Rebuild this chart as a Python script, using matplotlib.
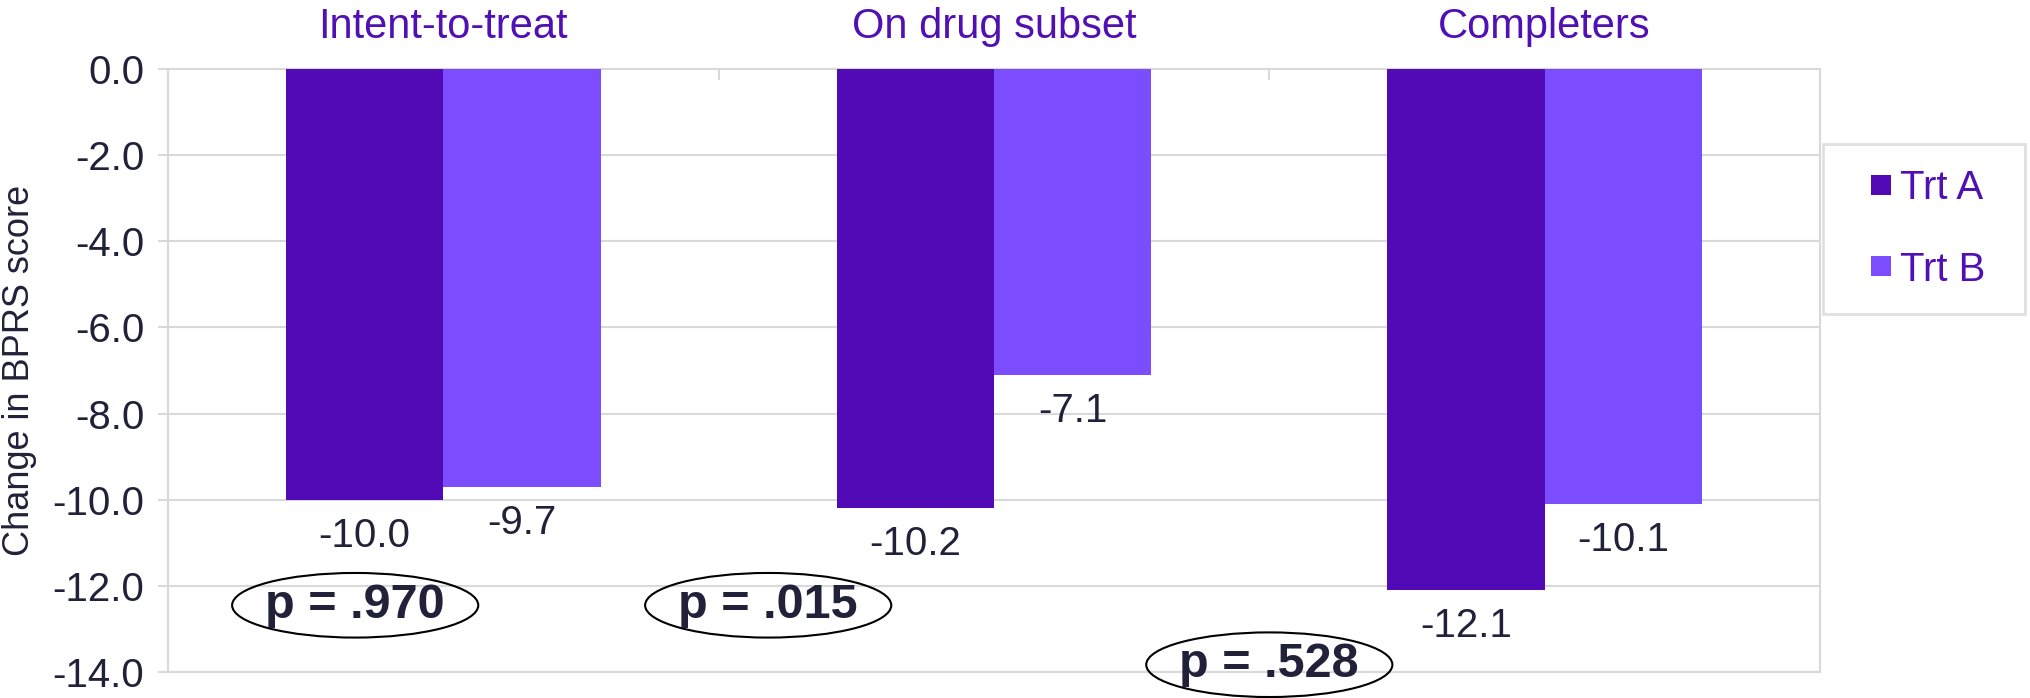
import matplotlib
matplotlib.use("Agg")
import matplotlib.pyplot as plt
from matplotlib.patches import Ellipse
from matplotlib.lines import Line2D
import numpy as np

# data
categories = ["Intent-to-treat", "On drug subset", "Completers"]
trt_a = [-10.0, -10.2, -12.1]
trt_b = [-9.7, -7.1, -10.1]
series_names = ["Trt A", "Trt B"]
p_labels = ["p = .970", "p = .015", "p = .528"]
# where each p-value ellipse sits (x in category units, y in score units)
p_x = [-0.16, 0.59, 1.50]
p_y = [-12.45, -12.45, -13.83]
y_ticks = [0, -2, -4, -6, -8, -10, -12, -14]

color_a = "#520AB6"
color_b = "#7B4DFF"
purple_text = "#5010B4"
dark_text = "#22213A"
grid_gray = "#D9D9D9"

plt.rcParams["font.family"] = ["Liberation Sans", "DejaVu Sans"]

fig = plt.figure(figsize=(20.31, 6.98), dpi=100)
ax = fig.add_axes([0.0827, 0.0372, 0.8134, 0.8640])

x = np.arange(len(categories))
w = 0.2857
ax.bar(x - w / 2, trt_a, w, color=color_a, zorder=3)
ax.bar(x + w / 2, trt_b, w, color=color_b, zorder=3)

# value labels just below the end of each bar
for xs, vals in ((x - w / 2, trt_a), (x + w / 2, trt_b)):
    for xi, v in zip(xs, vals):
        ax.annotate(f"{v:.1f}", (xi, v), xytext=(0, -26), textcoords="offset points",
                    ha="center", va="center", fontsize=29, color=dark_text)

# p-values in ellipses
for px, py, lab in zip(p_x, p_y, p_labels):
    ax.add_patch(Ellipse((px, py), 0.447, 1.5, facecolor="none", edgecolor="black",
                         linewidth=1.5, clip_on=False, zorder=5))
    ax.text(px, py, lab, ha="center", va="center", fontsize=35, fontweight="bold",
            color=dark_text, zorder=6, clip_on=False)

ax.set_xlim(-0.5, len(categories) - 0.5)
ax.set_ylim(-14, 0)

# category names along the top
ax.xaxis.tick_top()
ax.set_xticks(x)
ax.set_xticklabels(categories, fontsize=30, color=purple_text)
ax.tick_params(axis="x", which="major", length=0, pad=16)
ax.set_xticks(x[:-1] + 0.5, minor=True)
ax.tick_params(axis="x", which="minor", direction="in", length=8, width=1.5, color=grid_gray)

ax.set_yticks(y_ticks)
ax.set_yticklabels([f"{t:.1f}" for t in y_ticks], fontsize=29, color=dark_text)
ax.tick_params(axis="y", direction="out", length=7, width=1.5, color=grid_gray, pad=10)
ax.set_ylabel("Change in BPRS score", fontsize=26, color=dark_text)
ax.yaxis.set_label_coords(-0.0795, 0.5)

ax.grid(axis="y", color=grid_gray, linewidth=1.5, zorder=0)
ax.set_axisbelow(True)
for s in ax.spines.values():
    s.set_color(grid_gray)
    s.set_linewidth(1.5)

# square markers in the legend, like the original
handles = [Line2D([], [], marker="s", linestyle="none", markersize=14.5,
                  markerfacecolor=c, markeredgewidth=0) for c in (color_a, color_b)]
leg = fig.legend(handles, series_names, loc="upper left",
                 bbox_to_anchor=(0.8976, 0.5616, 0.0994, 0.232),
                 mode="expand", fontsize=29, frameon=True, fancybox=False,
                 borderpad=0.63, labelspacing=1.07, handlelength=1.64,
                 handletextpad=-0.35, borderaxespad=0)
leg.get_frame().set_edgecolor(grid_gray)
leg.get_frame().set_linewidth(2)
for t in leg.get_texts():
    t.set_color(purple_text)

fig.savefig("out.png", dpi=100)
